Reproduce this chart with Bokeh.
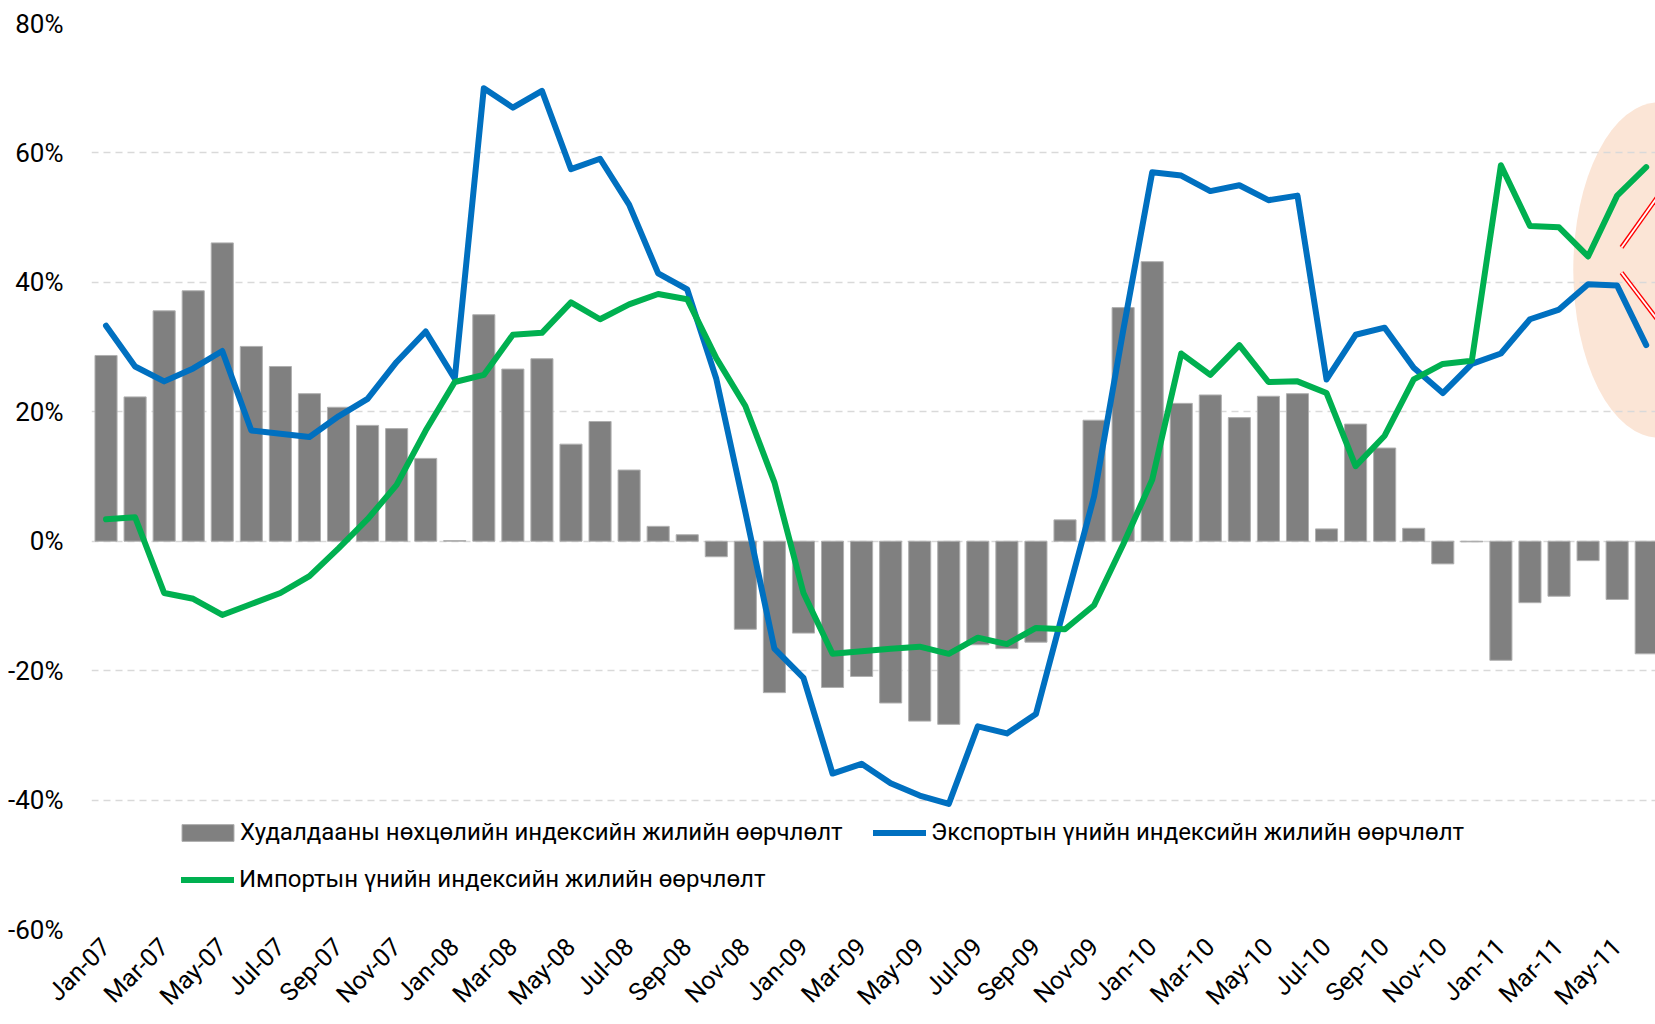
import math
from bokeh.plotting import figure
from bokeh.models import (FixedTicker, PrintfTickFormatter, Legend, LegendItem,
                          Range1d, ColumnDataSource)
from bokeh.embed import file_html
from bokeh.resources import INLINE

# ---------------- data ----------------
months = ["Jan-07", "Feb-07", "Mar-07", "Apr-07", "May-07", "Jun-07", "Jul-07", "Aug-07",
          "Sep-07", "Oct-07", "Nov-07", "Dec-07",
          "Jan-08", "Feb-08", "Mar-08", "Apr-08", "May-08", "Jun-08", "Jul-08", "Aug-08",
          "Sep-08", "Oct-08", "Nov-08", "Dec-08",
          "Jan-09", "Feb-09", "Mar-09", "Apr-09", "May-09", "Jun-09", "Jul-09", "Aug-09",
          "Sep-09", "Oct-09", "Nov-09", "Dec-09",
          "Jan-10", "Feb-10", "Mar-10", "Apr-10", "May-10", "Jun-10", "Jul-10", "Aug-10",
          "Sep-10", "Oct-10", "Nov-10", "Dec-10",
          "Jan-11", "Feb-11", "Mar-11", "Apr-11", "May-11", "Jun-11"]

terms_of_trade = [28.7, 22.3, 35.6, 38.7, 46.1, 30.1, 27.0, 22.8, 20.7, 17.9,
                  17.4, 12.8, 0.1, 35.0, 26.6, 28.2, 15.0, 18.5, 11.0, 2.3,
                  1.0, -2.4, -13.6, -23.4, -14.2, -22.6, -20.9, -25.0, -27.8, -28.3,
                  -16.0, -16.6, -15.6, 3.3, 18.7, 36.1, 43.2, 21.3, 22.6, 19.1,
                  22.4, 22.8, 1.9, 18.1, 14.4, 2.0, -3.5, -0.1, -18.4, -9.5,
                  -8.5, -3.0, -9.0, -17.4]

export_price = [33.3, 27.0, 24.7, 26.7, 29.4, 17.1, 16.6, 16.1, 19.3, 22.0,
                27.7, 32.4, 25.1, 70.0, 67.0, 69.6, 57.5, 59.1, 52.0, 41.4,
                38.9, 25.1, 4.5, -16.6, -21.1, -35.9, -34.4, -37.4, -39.3, -40.6,
                -28.6, -29.7, -26.7, -9.8, 6.9, 32.5, 57.0, 56.5, 54.1, 55.0,
                52.7, 53.4, 25.0, 31.9, 33.0, 26.8, 22.9, 27.4, 29.0, 34.3,
                35.8, 39.7, 39.5, 30.3]

import_price = [3.4, 3.7, -8.0, -8.9, -11.4, -9.7, -8.0, -5.4, -1.1, 3.4,
                8.7, 17.1, 24.6, 25.7, 31.9, 32.2, 36.9, 34.3, 36.6, 38.2,
                37.4, 28.3, 20.9, 9.1, -8.0, -17.4, -17.0, -16.6, -16.3, -17.4,
                -14.9, -15.9, -13.4, -13.6, -9.9, -0.5, 9.5, 29.0, 25.7, 30.3,
                24.6, 24.7, 22.9, 11.6, 16.3, 25.0, 27.4, 27.9, 58.1, 48.7,
                48.5, 44.0, 53.4, 57.8]

y_ticks = [-60, -40, -20, 0, 20, 40, 60, 80]

label_tot = "Худалдааны нөхцөлийн индексийн жилийн өөрчлөлт"
label_exp = "Экспортын үнийн индексийн жилийн өөрчлөлт"
label_imp = "Импортын үнийн индексийн жилийн өөрчлөлт"

# ---------------- figure ----------------
FONT = "Roboto"

idx = list(range(len(months)))
src = ColumnDataSource(dict(x=idx, tot=terms_of_trade, exp=export_price, imp=import_price))

p = figure(width=1655, height=1024, title=None,
           x_range=Range1d(-0.5, 53.32), y_range=Range1d(-60, 80),
           output_backend="svg", toolbar_location=None,
           min_border_left=91, min_border_right=0, min_border_top=23, min_border_bottom=95)
p.outline_line_color = None
p.background_fill_color = "white"
p.border_fill_color = "white"

# highlight ellipse (behind grid)
p.ellipse(x=[53.44], y=[41.9], width=5.9, height=51.9,
          fill_color="#FBE5D6", line_color=None, level="image")

bars = p.vbar(x="x", top="tot", width=0.76, source=src,
              fill_color="#808080", line_color="#B0B0B0", line_width=1)
l_exp = p.line(x="x", y="exp", source=src, line_color="#0070C0", line_width=6,
               line_join="round", line_cap="round")
l_imp = p.line(x="x", y="imp", source=src, line_color="#00B050", line_width=6,
               line_join="round", line_cap="round")

# red double-line arrows (annotation)
for xs, ys in (([52.15, 53.8], [45.4, 55.8]), ([52.15, 53.8], [41.5, 31.8])):
    p.line(x=xs, y=ys, line_color="#FF0000", line_width=4.6, line_cap="butt")
    p.line(x=xs, y=ys, line_color="white", line_width=1.8, line_cap="butt")

# grid
p.xgrid.visible = False
p.ygrid.ticker = FixedTicker(ticks=y_ticks)
p.ygrid.grid_line_color = "#D9D9D9"
p.ygrid.grid_line_width = 1.3
p.ygrid.grid_line_dash = "7 5"

# axes
p.yaxis.ticker = FixedTicker(ticks=y_ticks)
p.yaxis.formatter = PrintfTickFormatter(format="%d%%")
p.xaxis.ticker = FixedTicker(ticks=idx[::2])
p.xaxis.major_label_overrides = {i: months[i] for i in idx[::2]}
p.xaxis.major_label_orientation = math.pi / 4
for ax in (p.xaxis[0], p.yaxis[0]):
    ax.axis_line_color = None
    ax.major_tick_line_color = None
    ax.minor_tick_line_color = None
    ax.major_tick_out = 0
    ax.major_tick_in = 0
    ax.minor_tick_out = 0
    ax.minor_tick_in = 0
    ax.major_label_text_font = FONT
    ax.major_label_text_color = "black"
p.yaxis.major_label_text_font_size = "26px"
p.yaxis.major_label_standoff = 28
p.xaxis.major_label_text_font_size = "25px"
p.xaxis.major_label_standoff = 13

# legends
def make_legend(item, loc, gw, gh, standoff):
    lg = Legend(items=[item], location=loc, orientation="horizontal",
                label_text_font=FONT, label_text_font_size="24px",
                label_text_color="black", label_height=28,
                glyph_width=gw, glyph_height=gh,
                label_standoff=standoff, spacing=0, padding=0, margin=0,
                background_fill_alpha=0, border_line_color=None)
    p.add_layout(lg)

make_legend(LegendItem(label=label_tot, renderers=[bars]), (84, 83), 65, 21, 0)
make_legend(LegendItem(label=label_exp, renderers=[l_exp]), (782, 83), 53, 21, 5)
make_legend(LegendItem(label=label_imp, renderers=[l_imp]), (90, 36), 53, 21, 5)

open("out.html", "w").write(file_html(p, INLINE))
